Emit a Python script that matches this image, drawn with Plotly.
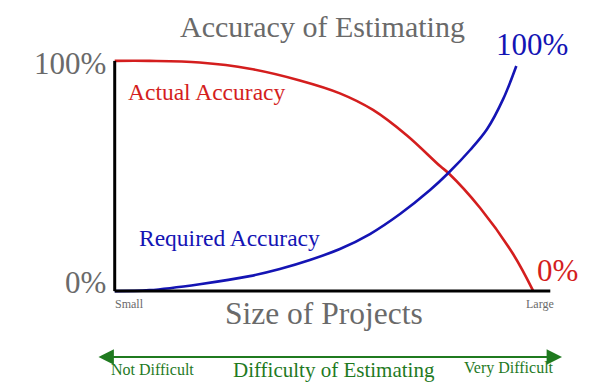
import plotly.graph_objects as go

# ---- data ----
actual_x = [0, 8.0, 19.5, 31.0, 42.5, 51.7, 59.3, 67.1, 74.7, 76.6, 83.9, 91.5, 96.1]
actual_y = [100, 100, 99.3, 96.6, 91.5, 85.9, 78.7, 67.6, 54.3, 51.3, 36.1, 16.0, 0]

required_x = [0, 8.0, 19.5, 31.0, 37.9, 44.8, 51.7, 58.6, 65.5, 72.4, 76.6, 81.6, 85.5, 89.2, 92.2]
required_y = [0, 0.4, 3.0, 6.5, 9.6, 13.5, 18.3, 24.8, 33.5, 43.9, 51.3, 61.3, 70.4, 83.5, 97.8]

title_text = "Accuracy of Estimating"
x_title = "Size of Projects"
x_tick_labels = ["Small", "Large"]
y_tick_labels = ["0%", "100%"]
difficulty_labels = ["Not Difficult", "Difficulty of Estimating", "Very Difficult"]

RED = "#d41e1e"
BLUE = "#1414b4"
GRAY = "#6a6a6a"
GREEN = "#1f7a1f"
FONT = "Liberation Serif, Times New Roman, serif"

W, H = 600, 390
OFF = 8  # page body margin
# plot area in page pixels
PL, PR, PT, PB = 106, 559, 54, 298
ML, MR, MT, MB = PL - OFF, W - (PR - OFF), PT - OFF, H - (PB - OFF)


def P(xp, yp):
    """page pixel -> paper coordinates"""
    return (xp - PL) / (PR - PL), (PB - yp) / (PB - PT)


fig = go.Figure()
fig.add_trace(go.Scatter(x=actual_x, y=actual_y, mode="lines",
                         line=dict(color=RED, width=2.6, shape="spline", smoothing=1.0),
                         hoverinfo="skip", showlegend=False))
fig.add_trace(go.Scatter(x=required_x, y=required_y, mode="lines",
                         line=dict(color=BLUE, width=2.6, shape="spline", smoothing=1.0),
                         hoverinfo="skip", showlegend=False))

# axis lines
fig.add_shape(type="line", x0=0, x1=100, y0=0, y1=0, xref="x", yref="y",
              line=dict(color="black", width=3))
fig.add_shape(type="line", x0=0, x1=0, y0=0, y1=100, xref="x", yref="y",
              line=dict(color="black", width=3))

ann = []


def txt(text, xp, yp, size, color, xanchor="center"):
    x, y = P(xp, yp)
    ann.append(dict(text=text, x=x, y=y, xref="paper", yref="paper", showarrow=False,
                    xanchor=xanchor, yanchor="middle",
                    font=dict(family=FONT, size=size, color=color)))


txt(title_text, 322, 26, 30, GRAY)
txt(y_tick_labels[1], 108, 63, 31, GRAY, "right")
txt(y_tick_labels[0], 108, 282, 31, GRAY, "right")
txt(y_tick_labels[1], 532, 44, 31, BLUE)
txt(y_tick_labels[0], 557, 270, 31, RED)
txt("Actual Accuracy", 126, 92, 23.5, RED, "left")
txt("Required Accuracy", 137, 238, 23.5, BLUE, "left")
txt(x_tick_labels[0], 113, 304, 12, GRAY, "left")
txt(x_tick_labels[1], 540, 304, 12, GRAY)
txt(x_title, 324, 313, 31.5, GRAY)
txt(difficulty_labels[0], 152, 369, 16, GREEN)
txt(difficulty_labels[1], 334, 370, 21, GREEN)
txt(difficulty_labels[2], 509, 368, 16, GREEN)

# double arrow
x1, y1 = P(562, 357)
ann.append(dict(text="", x=x1, y=y1, ax=-(562 - 97), ay=0, xref="paper", yref="paper",
                axref="pixel", ayref="pixel", showarrow=True, arrowside="end+start",
                arrowhead=2, arrowsize=1.4, arrowwidth=2.2, arrowcolor=GREEN))

fig.update_layout(
    width=W, height=H,
    margin=dict(l=ML, r=MR, t=MT, b=MB),
    paper_bgcolor="white", plot_bgcolor="white",
    xaxis=dict(range=[-2, 102], visible=False, fixedrange=True),
    yaxis=dict(range=[-3, 103], visible=False, fixedrange=True),
    annotations=ann,
    showlegend=False,
)

fig.write_html("out.html")
